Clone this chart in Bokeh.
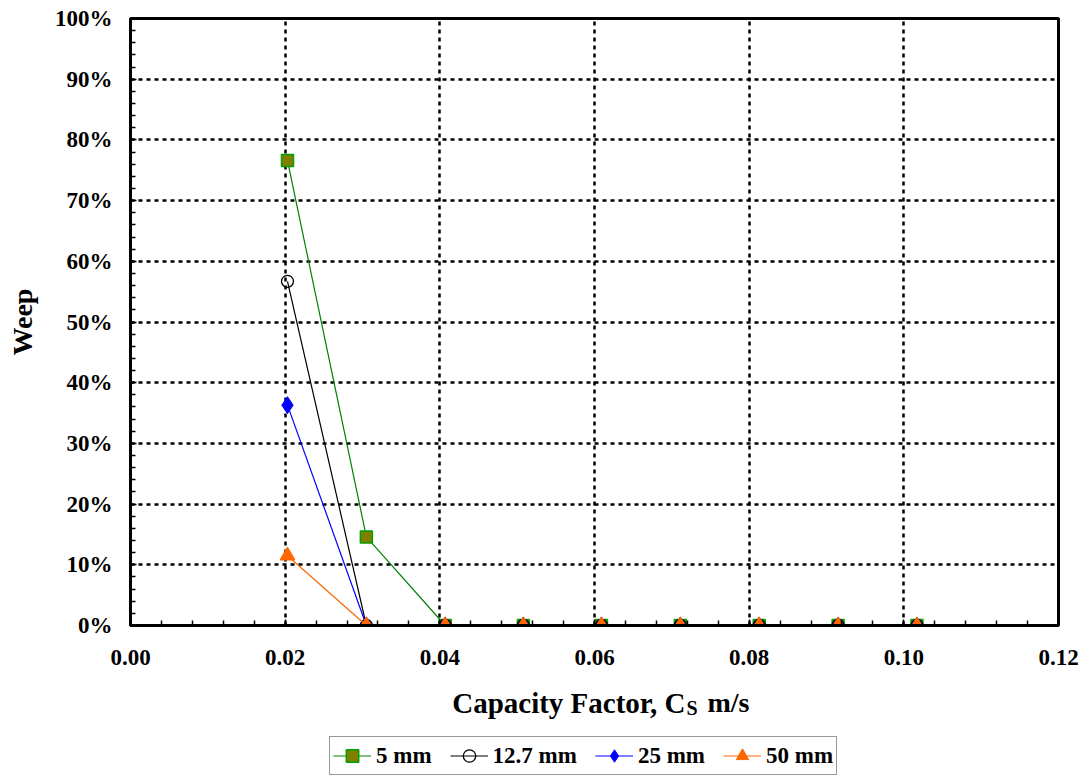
from bokeh.plotting import figure
from bokeh.layouts import column
from bokeh.models import Range1d, NumeralTickFormatter, Legend, LegendItem, Label, FixedTicker
from bokeh.embed import file_html
from bokeh.resources import INLINE

cs = [0.0203, 0.0305, 0.0407, 0.0508, 0.0609, 0.0711, 0.0813, 0.0915, 0.1017]
weep_5mm = [0.766, 0.146, 0, 0, 0, 0, 0, 0, 0]
weep_12_7mm = [0.567, 0, 0, 0, 0, 0, 0, 0, 0]
weep_25mm = [0.363, 0, 0, 0, 0, 0, 0, 0, 0]
weep_50mm = [0.115, 0, 0, 0, 0, 0, 0, 0, 0]
series_names = ["5 mm", "12.7 mm", "25 mm", "50 mm"]
x_ticks = [0.0, 0.02, 0.04, 0.06, 0.08, 0.10, 0.12]
y_ticks = [0.0, 0.1, 0.2, 0.3, 0.4, 0.5, 0.6, 0.7, 0.8, 0.9, 1.0]

FONT = "Liberation Serif"
NAN = float("nan")

# series styles
styles = [
    dict(line=dict(line_color="#008000", line_width=1.2),
         marker=dict(marker="square", size=12, fill_color="#808000", line_color="#00A000", line_width=1.5)),
    dict(line=dict(line_color="black", line_width=1.2),
         marker=dict(marker="circle", size=12, fill_color="white", fill_alpha=0, line_color="black", line_width=1.3)),
    dict(line=dict(line_color="#0000FF", line_width=1.2),
         marker=dict(marker="diamond", size=17, fill_color="#0000FF", line_color="#0000FF")),
    dict(line=dict(line_color="#FF6600", line_width=1.2),
         marker=dict(marker="triangle", size=15, fill_color="#FF6600", line_color="#FF6600")),
]
series = [weep_5mm, weep_12_7mm, weep_25mm, weep_50mm]

TOP_H = 677
p = figure(width=1085, height=TOP_H, output_backend="svg", toolbar_location=None,
           x_range=Range1d(0, 0.12), y_range=Range1d(0, 1),
           min_border_left=130, min_border_right=27, min_border_top=18, min_border_bottom=52)

p.background_fill_color = "white"
p.border_fill_color = "white"
p.outline_line_color = "black"
p.outline_line_width = 3

for ax in (p.xaxis[0], p.yaxis[0]):
    ax.axis_line_width = 3
    ax.axis_line_color = "black"
    ax.major_tick_in = 6
    ax.major_tick_out = 0
    ax.minor_tick_in = 5
    ax.minor_tick_out = 0
    ax.major_tick_line_width = 1.5
    ax.minor_tick_line_width = 1.5
    ax.major_label_text_font = FONT
    ax.major_label_text_font_style = "bold"
    ax.major_label_text_font_size = "23px"
    ax.major_label_text_color = "black"

p.xaxis[0].ticker = FixedTicker(ticks=x_ticks, minor_ticks=[i * 0.004 for i in range(31)])
p.yaxis[0].ticker = FixedTicker(ticks=y_ticks, minor_ticks=[i * 0.02 for i in range(51)])
p.xaxis[0].formatter = NumeralTickFormatter(format="0.00")
p.yaxis[0].formatter = NumeralTickFormatter(format="0%")
p.xaxis[0].major_label_standoff = 24
p.yaxis[0].major_label_standoff = 18

p.yaxis[0].axis_label = "Weep"
p.yaxis[0].axis_label_text_font = FONT
p.yaxis[0].axis_label_text_font_style = "bold"
p.yaxis[0].axis_label_text_font_size = "28px"
p.yaxis[0].axis_label_text_color = "black"
p.yaxis[0].axis_label_standoff = 14

for g in (p.xgrid[0], p.ygrid[0]):
    g.grid_line_color = "black"
    g.grid_line_width = 2.5
    g.grid_line_dash = "4 4"

for ys, st in zip(series, styles):
    p.line(cs, ys, **st["line"])
    p.scatter(cs, ys, **st["marker"])

# lower panel: axis title (with subscript) and legend; its frame is aligned with p's frame
p2 = figure(width=1085, height=776 - TOP_H, output_backend="svg", toolbar_location=None,
            x_range=Range1d(0, 1), y_range=Range1d(0, 1),
            x_axis_location=None, y_axis_location=None,
            min_border=0, min_border_left=0, min_border_right=0, min_border_top=0, min_border_bottom=0)
p2.grid.visible = False
p2.outline_line_color = None
p2.background_fill_color = "white"
p2.border_fill_color = "white"

lab_kw = dict(x_units="screen", y_units="screen", text_font=FONT, text_font_style="bold",
              text_color="black", text_baseline="alphabetic")
p2.add_layout(Label(x=555, y=74, text="Capacity Factor, C", text_align="right", text_font_size="29px", **lab_kw))
p2.add_layout(Label(x=556, y=69, text="S", text_align="left", text_font_size="20px", **lab_kw))
p2.add_layout(Label(x=577, y=74, text="m/s", text_align="left", text_font_size="28px", **lab_kw))

items = []
for name, st in zip(series_names, styles):
    rl = p2.line([NAN], [NAN], **st["line"])
    rm = p2.scatter([NAN], [NAN], **st["marker"])
    items.append(LegendItem(label=name, renderers=[rl, rm]))

legend = Legend(items=items, orientation="horizontal", location=(199, 1))
legend.label_text_font = FONT
legend.label_text_font_style = "bold"
legend.label_text_font_size = "23px"
legend.label_text_color = "black"
legend.label_height = 20
legend.glyph_width = 38
legend.glyph_height = 31
legend.label_standoff = 5
legend.spacing = 18
legend.padding = 3
legend.margin = 0
legend.border_line_color = "#333333"
legend.border_line_width = 1.5
legend.background_fill_color = "white"
p2.add_layout(legend, "center")

open("out.html", "w").write(file_html(column(p, p2, spacing=0), INLINE))
